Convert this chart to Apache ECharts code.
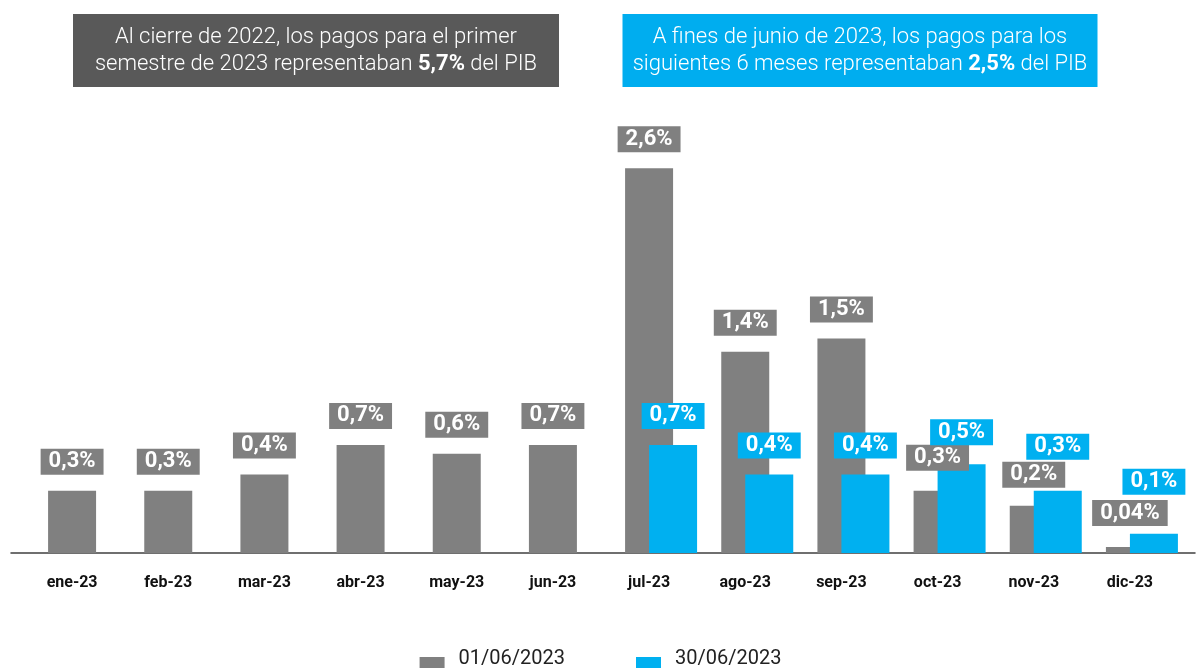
<!DOCTYPE html>
<html>
<head>
<meta charset="utf-8">
<script src="https://cdn.jsdelivr.net/npm/echarts@6/dist/echarts.min.js"></script>
<style>
  html, body { margin: 0; padding: 0; background: #fff; }
  #chart { width: 1201px; height: 668px; }
</style>
</head>
<body>
<div id="chart"></div>
<script>
/* ===== datos ===== */
const MONTHS = ['ene-23', 'feb-23', 'mar-23', 'abr-23', 'may-23', 'jun-23',
                'jul-23', 'ago-23', 'sep-23', 'oct-23', 'nov-23', 'dic-23']

const PAGOS_0106 = [0.42, 0.42, 0.53, 0.73, 0.67, 0.73, 2.6, 1.36, 1.45, 0.42, 0.32, 0.04]
// vencimientos al 30/06/2023
const PAGOS_3006 = [null, null, null, null, null, null, 0.73, 0.53, 0.53, 0.6, 0.42, 0.13]

// etiquetas tal como aparecen en el gráfico
const LABELS_0106 = ['0,3%', '0,3%', '0,4%', '0,7%', '0,6%', '0,7%', '2,6%', '1,4%', '1,5%', '0,3%', '0,2%', '0,04%']
const LABELS_3006 = ['', '', '', '', '', '', '0,7%', '0,4%', '0,4%', '0,5%', '0,3%', '0,1%']

const SERIES_NAMES = ['01/06/2023', '30/06/2023']

/* ===== estilo ===== */
const GREY = '#808080'
const BLUE = '#00B0F0'
const FONT = 'Roboto, "Noto Sans", sans-serif'

// separación etiqueta-barra (algunas movidas a mano en el original)
const GAP_0106 = [16, 16, 16, 16, 16, 16, 16, 16, 16, 20, 18, 21]
const GAP_3006 = [16, 16, 16, 16, 16, 16, 16, 16, 16, 19, 31, 39]

// cuadrado de leyenda corrido hacia abajo respecto del texto (como en el original)
const LEGEND_ICON = 'path://M0,0 L0.01,0 M0,21 L25,21 L25,46 L0,46 Z'

function labelStyle(bg, texts, gaps) {
  return (v, i) => ({
    value: v,
    label: {
      show: v != null,
      position: 'top',
      distance: gaps[i],
      formatter: () => texts[i],
      color: '#fff',
      fontFamily: FONT,
      fontWeight: 'bold',
      fontSize: 22,
      lineHeight: 22,
      backgroundColor: bg,
      padding: [2, 8, 2, 8]
    }
  })
}

const headerText = {
  color: '#fff', fontFamily: FONT, fontWeight: 300, fontSize: 22, lineHeight: 27, align: 'center',
  rich: { b: { color: '#fff', fontFamily: FONT, fontWeight: 'bold', fontSize: 22, lineHeight: 27 } }
}

const chart = echarts.init(document.getElementById('chart'), null, { renderer: 'canvas' })

chart.setOption({
  animation: false,
  title: [
    {
      left: 316, top: 14, textAlign: 'center',
      text: 'Al cierre de 2022, los pagos para el primer\nsemestre de 2023 representaban {b|5,7%} del PIB',
      backgroundColor: '#595959',
      padding: [10, 0, 9, 0],
      textStyle: Object.assign({ width: 486 }, headerText)
    },
    {
      left: 860, top: 14, textAlign: 'center',
      text: 'A fines de junio de 2023, los pagos para los\nsiguientes 6 meses representaban {b|2,5%} del PIB',
      backgroundColor: '#00ADEF',
      padding: [10, 0, 9, 0],
      textStyle: Object.assign({ width: 475 }, headerText)
    }
  ],
  legend: {
    data: SERIES_NAMES.map(n => ({ name: n, icon: LEGEND_ICON })),
    left: 'center',
    top: 636,
    padding: 0,
    itemWidth: 25,
    itemHeight: 46,
    itemGap: 71,
    textStyle: { color: '#222', fontFamily: FONT, fontSize: 20, padding: [0, 0, 0, 9] }
  },
  grid: [
    { left: 24, right: 23, top: 109, bottom: 115 },
    { left: 11, right: 6, top: 109, bottom: 115 }   // sólo para la línea base
  ],
  xAxis: [
    {
      type: 'category',
      data: MONTHS,
      axisLine: { show: false },
      axisTick: { show: false },
      axisLabel: { color: '#111', fontFamily: FONT, fontWeight: 'bold', fontSize: 16, margin: 22 }
    },
    {
      type: 'value', gridIndex: 1, min: 0, max: 1,
      axisLine: { show: true, lineStyle: { color: '#404040', width: 1.5 } },
      axisTick: { show: false }, axisLabel: { show: false }, splitLine: { show: false }
    }
  ],
  yAxis: [
    { type: 'value', min: 0, max: 3, show: false, splitLine: { show: false } },
    { type: 'value', gridIndex: 1, min: 0, max: 1, show: false }
  ],
  series: [
    // serie vacía: deja la barra gris centrada y la celeste corrida a la derecha
    { type: 'bar', name: '_', data: [], barWidth: 48, barGap: '-50%' },
    {
      type: 'bar', name: SERIES_NAMES[0], barWidth: 48, barGap: '-50%',
      itemStyle: { color: GREY },
      data: PAGOS_0106.map(labelStyle(GREY, LABELS_0106, GAP_0106))
    },
    {
      type: 'bar', name: SERIES_NAMES[1], barWidth: 48, barGap: '-50%',
      itemStyle: { color: BLUE },
      data: PAGOS_3006.map(labelStyle(BLUE, LABELS_3006, GAP_3006))
    }
  ]
})
</script>
</body>
</html>
